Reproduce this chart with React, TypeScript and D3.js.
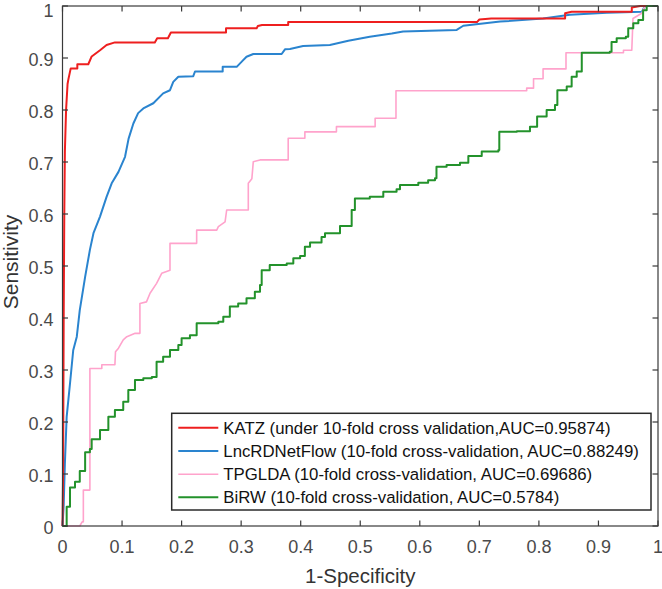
import React from "react";
import * as d3 from "d3";

const xTicks = [0, 0.1, 0.2, 0.3, 0.4, 0.5, 0.6, 0.7, 0.8, 0.9, 1];
const yTicks = [0, 0.1, 0.2, 0.3, 0.4, 0.5, 0.6, 0.7, 0.8, 0.9, 1];
const tickLabels = ["0", "0.1", "0.2", "0.3", "0.4", "0.5", "0.6", "0.7", "0.8", "0.9", "1"];

const seriesNames = [
  "KATZ (under 10-fold cross validation,AUC=0.95874)",
  "LncRDNetFlow (10-fold cross-validation, AUC=0.88249)",
  "TPGLDA (10-fold cross-validation, AUC=0.69686)",
  "BiRW (10-fold cross-validation, AUC=0.5784)",
];

const katzX = [0, 0.001, 0.002, 0.003, 0.004, 0.006, 0.0085, 0.0097, 0.0138, 0.0249, 0.0249, 0.0433, 0.049, 0.063, 0.074, 0.088, 0.155, 0.159, 0.177, 0.182, 0.2746, 0.2746, 0.326, 0.328, 0.335, 0.379, 0.379, 0.696, 0.7, 0.72, 0.844, 0.844, 0.855, 0.956, 0.956, 0.97, 1];
const katzY = [0, 0.1, 0.4, 0.6, 0.72, 0.8, 0.85, 0.858, 0.88, 0.88, 0.888, 0.888, 0.903, 0.915, 0.925, 0.93, 0.93, 0.938, 0.938, 0.949, 0.949, 0.957, 0.957, 0.9615, 0.9635, 0.9635, 0.969, 0.969, 0.974, 0.976, 0.976, 0.986, 0.989, 0.989, 0.997, 1, 1];

const lncX = [0, 0.002, 0.004, 0.007, 0.0126, 0.018, 0.024, 0.029, 0.038, 0.046, 0.052, 0.063, 0.074, 0.0826, 0.094, 0.105, 0.111, 0.119, 0.127, 0.1357, 0.1525, 0.169, 0.1805, 0.186, 0.1945, 0.2196, 0.2225, 0.269, 0.269, 0.2925, 0.301, 0.309, 0.3204, 0.368, 0.3736, 0.382, 0.404, 0.449, 0.48, 0.516, 0.553, 0.572, 0.662, 0.673, 0.735, 0.807, 0.852, 0.914, 0.973, 0.978, 1];
const lncY = [0, 0.04, 0.12, 0.21, 0.274, 0.338, 0.364, 0.415, 0.479, 0.531, 0.563, 0.595, 0.633, 0.659, 0.681, 0.71, 0.745, 0.774, 0.794, 0.803, 0.813, 0.832, 0.838, 0.854, 0.864, 0.865, 0.874, 0.874, 0.883, 0.883, 0.893, 0.9025, 0.9077, 0.9077, 0.9167, 0.9173, 0.923, 0.925, 0.933, 0.941, 0.947, 0.951, 0.954, 0.962, 0.97, 0.976, 0.983, 0.987, 0.989, 1, 1];

const tpgX = [0, 0.029, 0.033, 0.035, 0.035, 0.046, 0.046, 0.066, 0.066, 0.088, 0.089, 0.094, 0.102, 0.108, 0.122, 0.13, 0.13, 0.141, 0.147, 0.158, 0.1666, 0.1805, 0.1805, 0.2253, 0.2253, 0.259, 0.2617, 0.273, 0.2757, 0.312, 0.312, 0.318, 0.3204, 0.3317, 0.379, 0.379, 0.407, 0.407, 0.46, 0.46, 0.525, 0.525, 0.56, 0.56, 0.7795, 0.7795, 0.791, 0.791, 0.807, 0.807, 0.8455, 0.8455, 0.942, 0.942, 0.956, 0.958, 0.9727, 0.978, 1];
const tpgY = [0, 0, 0.008, 0.008, 0.069, 0.069, 0.303, 0.303, 0.31, 0.31, 0.335, 0.342, 0.358, 0.364, 0.3705, 0.3705, 0.428, 0.431, 0.4475, 0.4667, 0.486, 0.492, 0.5436, 0.5436, 0.569, 0.569, 0.5756, 0.585, 0.6077, 0.6077, 0.659, 0.668, 0.7006, 0.704, 0.704, 0.7456, 0.7456, 0.758, 0.758, 0.768, 0.768, 0.784, 0.784, 0.837, 0.837, 0.842, 0.842, 0.86, 0.86, 0.879, 0.879, 0.91, 0.91, 0.915, 0.915, 0.976, 0.986, 1, 1];

const birwX = [0, 0.007, 0.0126, 0.021, 0.029, 0.038, 0.046, 0.049, 0.063, 0.077, 0.088, 0.102, 0.1105, 0.1217, 0.1357, 0.15, 0.158, 0.169, 0.1805, 0.1945, 0.2, 0.214, 0.2253, 0.2617, 0.27, 0.281, 0.295, 0.309, 0.323, 0.3317, 0.3345, 0.348, 0.3765, 0.3876, 0.399, 0.407, 0.4157, 0.435, 0.4408, 0.46, 0.466, 0.483, 0.4856, 0.491, 0.516, 0.5387, 0.561, 0.5667, 0.5975, 0.614, 0.6255, 0.628, 0.645, 0.6675, 0.6815, 0.704, 0.732, 0.7335, 0.763, 0.785, 0.797, 0.813, 0.827, 0.831, 0.8467, 0.855, 0.8635, 0.872, 0.919, 0.922, 0.9306, 0.946, 0.95, 0.9585, 0.967, 0.975, 0.981, 1];
const birwY = [0, 0.037, 0.074, 0.085, 0.106, 0.142, 0.148, 0.167, 0.1846, 0.21, 0.223, 0.239, 0.2615, 0.281, 0.284, 0.2865, 0.316, 0.3256, 0.3385, 0.348, 0.361, 0.367, 0.39, 0.393, 0.4025, 0.422, 0.428, 0.438, 0.4506, 0.4635, 0.492, 0.502, 0.505, 0.5148, 0.519, 0.537, 0.545, 0.556, 0.563, 0.563, 0.577, 0.577, 0.6077, 0.63, 0.633, 0.643, 0.6475, 0.6558, 0.66, 0.665, 0.6686, 0.691, 0.694, 0.6987, 0.7115, 0.72, 0.723, 0.758, 0.759, 0.768, 0.7875, 0.8, 0.8096, 0.838, 0.845, 0.864, 0.874, 0.91, 0.912, 0.931, 0.938, 0.941, 0.957, 0.967, 0.973, 0.992, 1, 1];

const colors = ["#ee1f1f", "#2a84cf", "#ffa3cc", "#23922b"];
const widths = [2, 2, 1.6, 2];

const W = 662;
const H = 589;
const x0 = 62.5, x1 = 658, yTop = 6, yBot = 526;

export default function App() {
  const x = d3.scaleLinear().domain([0, 1]).range([x0, x1]);
  const y = d3.scaleLinear().domain([0, 1]).range([yBot, yTop]);
  const zip = (xs: number[], ys: number[]) => xs.map((v, i) => [v, ys[i]] as [number, number]);
  const lin = d3.line<[number, number]>().x((d) => x(d[0])).y((d) => y(d[1]));
  const step = d3.line<[number, number]>().x((d) => x(d[0])).y((d) => y(d[1])).curve(d3.curveStepAfter);

  const data = [zip(katzX, katzY), zip(lncX, lncY), zip(tpgX, tpgY), zip(birwX, birwY)];
  const gens = [lin, lin, lin, step];
  const drawOrder = [1, 2, 0, 3];

  const axisColor = "#3a3a3a";
  const font = "'Liberation Sans', Arial, Helvetica, sans-serif";
  const tickLen = 5.5;

  const legX = 171.7, legY = 413.3, legW = 479.3, legH = 96.7;
  const rowY = [427.7, 451, 474.2, 497.3];

  return (
    <svg width={W} height={H} style={{ position: "absolute", left: 0, top: 0, background: "#fff" }} fontFamily={font}>
      <rect x={0} y={0} width={W} height={H} fill="#fff" />
      {drawOrder.map((i) => (
        <path key={i} d={gens[i](data[i]) || ""} fill="none" stroke={colors[i]} strokeWidth={widths[i]} strokeLinejoin="round" />
      ))}
      <rect x={x0} y={yTop} width={x1 - x0} height={yBot - yTop} fill="none" stroke={axisColor} strokeWidth={1.2} />
      {xTicks.map((t, i) => (
        <g key={"xt" + i}>
          <line x1={x(t)} x2={x(t)} y1={yBot} y2={yBot - tickLen} stroke={axisColor} strokeWidth={1.2} />
          <line x1={x(t)} x2={x(t)} y1={yTop} y2={yTop + tickLen} stroke={axisColor} strokeWidth={1.2} />
          <text x={x(t)} y={553} textAnchor="middle" fontSize={18} fill="#4a4a4a">{tickLabels[i]}</text>
        </g>
      ))}
      {yTicks.map((t, i) => (
        <g key={"yt" + i}>
          <line x1={x0} x2={x0 + tickLen} y1={y(t)} y2={y(t)} stroke={axisColor} strokeWidth={1.2} />
          <line x1={x1} x2={x1 - tickLen} y1={y(t)} y2={y(t)} stroke={axisColor} strokeWidth={1.2} />
          <text x={53.5} y={Math.max(y(t) + 8, 17)} textAnchor="end" fontSize={18} fill="#4a4a4a">{tickLabels[i]}</text>
        </g>
      ))}
      <text x={(x0 + x1) / 2} y={582.5} textAnchor="middle" fontSize={20.5} fill="#333">1-Specificity</text>
      <text transform={`translate(18, 262) rotate(-90)`} textAnchor="middle" fontSize={21} fill="#333">Sensitivity</text>
      <rect x={legX} y={legY} width={legW} height={legH} fill="#fff" stroke="#2a2a2a" strokeWidth={1.5} />
      {seriesNames.map((n, i) => (
        <g key={"lg" + i}>
          <line x1={178.3} x2={218.3} y1={rowY[i]} y2={rowY[i]} stroke={colors[i]} strokeWidth={widths[i]} />
          <text x={223.3} y={rowY[i] + 5.8} fontSize={16.8} fill="#111">{n}</text>
        </g>
      ))}
    </svg>
  );
}
